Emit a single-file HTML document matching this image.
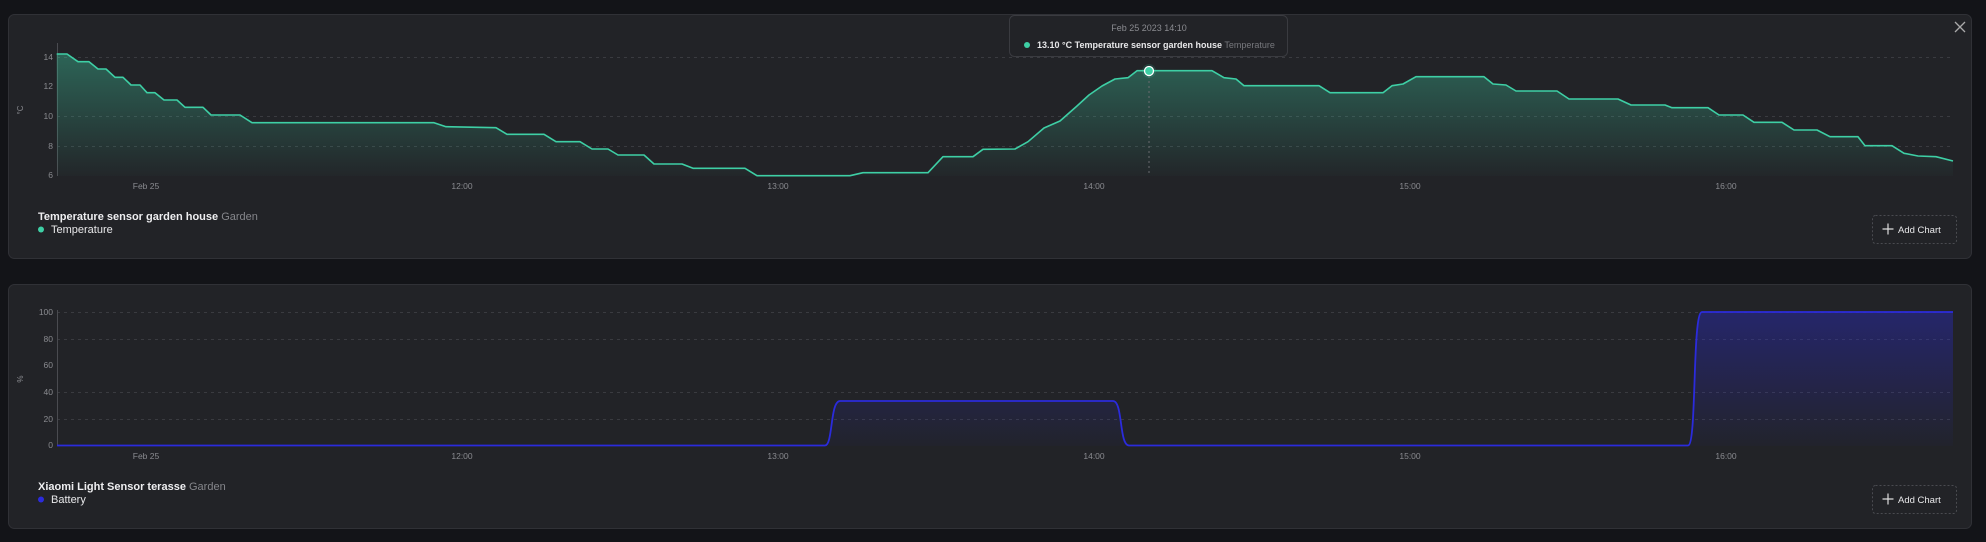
<!DOCTYPE html>
<html><head><meta charset="utf-8"><style>
html,body{margin:0;padding:0;background:#131418;width:1986px;height:542px;overflow:hidden;font-family:"Liberation Sans",sans-serif;}
svg{position:absolute;left:0;top:0}
</style></head><body>
<svg width="1986" height="542" viewBox="0 0 1986 542" xmlns="http://www.w3.org/2000/svg" font-family="Liberation Sans, sans-serif">
<defs>
<linearGradient id="g1" x1="0" y1="0" x2="0" y2="1"><stop offset="0" stop-color="#3ecfa5" stop-opacity="0.38"/><stop offset="1" stop-color="#3ecfa5" stop-opacity="0.02"/></linearGradient>
<linearGradient id="g2" x1="0" y1="0" x2="0" y2="1"><stop offset="0" stop-color="#2a2ad0" stop-opacity="0.4"/><stop offset="1" stop-color="#2a2ad0" stop-opacity="0.03"/></linearGradient>
</defs>
<rect x="8.5" y="14.5" width="1963" height="244" rx="6" fill="#222327" stroke="#303136"/>
<rect x="8.5" y="284.5" width="1963" height="244" rx="6" fill="#222327" stroke="#303136"/>

<!-- chart 1 -->
<g stroke="#3a3b40" stroke-dasharray="3,4" stroke-width="1">
<line x1="57" y1="57.5" x2="1953" y2="57.5"/><line x1="57" y1="116.5" x2="1953" y2="116.5"/><line x1="57" y1="146.5" x2="1953" y2="146.5"/>
</g>
<line x1="57.5" y1="43" x2="57.5" y2="176" stroke="#4a4b50"/>
<g fill="#8a8b90" font-size="8.5" text-anchor="end">
<text x="53" y="60">14</text><text x="53" y="89">12</text><text x="53" y="119">10</text><text x="53" y="149">8</text><text x="53" y="178">6</text>
</g>
<text x="0" y="0" fill="#8a8b90" font-size="8" transform="translate(23,110) rotate(-90)" text-anchor="middle">°C</text>
<g fill="#8a8b90" font-size="8.5" text-anchor="middle">
<text x="146" y="189">Feb 25</text><text x="462" y="189">12:00</text><text x="778" y="189">13:00</text><text x="1094" y="189">14:00</text><text x="1410" y="189">15:00</text><text x="1726" y="189">16:00</text>
</g>
<path fill="url(#g1)" d="M56.7,54 L67,54 78,61.7 89,61.7 98,69 106,69 115,77.3 123,77.3 131,85 140,85 147,92.7 155,92.7 164,100 177,100 185,107.3 203,107.3 211,115 240,115 252,122.7 434,122.7 446,126.7 496,127.7 507,134.3 544,134.3 556,141.7 580,141.7 592,149 608,149 618,155 644,155 654,164 682,164 693,168.3 745,168.3 757,175.7 850,175.7 863,172.7 928,172.7 943,156.7 973,156.7 983,149.3 1015,149 1028,141.7 1044,128 1060,121 1077,106 1089,95 1102,86 1115,79 1128,77.7 1137,70.7 1212,70.7 1224,77.7 1236,79 1244,85.7 1319,85.7 1330,92.7 1383,92.7 1392,85.7 1403,84 1416,76.7 1484,76.7 1493,84 1506,85 1516,91 1557,91 1569,99 1618,99 1631,105 1665,105 1672,107.7 1708,107.7 1719,115 1743,115 1754,122.3 1782,122.3 1794,130 1817,130 1830,136.7 1858,136.7 1865,145.7 1892,145.7 1904,153.3 1918,156 1936,156.7 1953,161 L1953,176 L57,176 Z"/>
<path fill="none" stroke="#3ecfa5" stroke-width="1.6" stroke-linejoin="round" d="M56.7,54 L67,54 78,61.7 89,61.7 98,69 106,69 115,77.3 123,77.3 131,85 140,85 147,92.7 155,92.7 164,100 177,100 185,107.3 203,107.3 211,115 240,115 252,122.7 434,122.7 446,126.7 496,127.7 507,134.3 544,134.3 556,141.7 580,141.7 592,149 608,149 618,155 644,155 654,164 682,164 693,168.3 745,168.3 757,175.7 850,175.7 863,172.7 928,172.7 943,156.7 973,156.7 983,149.3 1015,149 1028,141.7 1044,128 1060,121 1077,106 1089,95 1102,86 1115,79 1128,77.7 1137,70.7 1212,70.7 1224,77.7 1236,79 1244,85.7 1319,85.7 1330,92.7 1383,92.7 1392,85.7 1403,84 1416,76.7 1484,76.7 1493,84 1506,85 1516,91 1557,91 1569,99 1618,99 1631,105 1665,105 1672,107.7 1708,107.7 1719,115 1743,115 1754,122.3 1782,122.3 1794,130 1817,130 1830,136.7 1858,136.7 1865,145.7 1892,145.7 1904,153.3 1918,156 1936,156.7 1953,161"/>
<line x1="1149" y1="71" x2="1149" y2="176" stroke="#6a6b70" stroke-dasharray="2,3"/>
<circle cx="1149" cy="71" r="7" fill="#3ecfa5" fill-opacity="0.15"/>
<circle cx="1149" cy="71" r="4.5" fill="#3ecfa5" stroke="#fff" stroke-width="1.3"/>
<rect x="1009.5" y="15.5" width="278" height="41" rx="5" fill="#222327" stroke="#3a3b40"/>
<text x="1149" y="31" fill="#8a8b90" font-size="9" text-anchor="middle">Feb 25 2023 14:10</text>
<circle cx="1027" cy="45" r="3" fill="#3ecfa5"/>
<text x="1037" y="48" font-size="9" fill="#e8e8ea"><tspan font-weight="bold">13.10 °C Temperature sensor garden house</tspan> <tspan fill="#77787d">Temperature</tspan></text>
<path d="M1955,22 L1965,32 M1965,22 L1955,32" stroke="#aaa" stroke-width="1.3"/>
<text x="38" y="220" font-size="11" fill="#eeeef0" font-weight="bold">Temperature sensor garden house <tspan font-weight="normal" fill="#85868b">Garden</tspan></text>
<circle cx="41" cy="229.5" r="3" fill="#3ecfa5"/>
<text x="51" y="233" font-size="11" fill="#e8e8ea">Temperature</text>
<rect x="1872.5" y="215.5" width="84" height="28" rx="3" fill="none" stroke="#4a4b50" stroke-dasharray="2,2"/>
<path d="M1888,223.5 v11 M1882.5,229 h11" stroke="#ddd" stroke-width="1.2"/>
<text x="1898" y="233" font-size="9.5" fill="#e8e8ea">Add Chart</text>

<!-- chart 2 -->
<g stroke="#3a3b40" stroke-dasharray="3,4" stroke-width="1">
<line x1="57" y1="312.5" x2="1953" y2="312.5"/><line x1="57" y1="339.5" x2="1953" y2="339.5"/><line x1="57" y1="392.5" x2="1953" y2="392.5"/><line x1="57" y1="419.5" x2="1953" y2="419.5"/>
</g>
<line x1="57.5" y1="310" x2="57.5" y2="446" stroke="#4a4b50"/>
<g fill="#8a8b90" font-size="8.5" text-anchor="end">
<text x="53" y="315">100</text><text x="53" y="342">80</text><text x="53" y="368">60</text><text x="53" y="395">40</text><text x="53" y="422">20</text><text x="53" y="448">0</text>
</g>
<text x="0" y="0" fill="#8a8b90" font-size="8" transform="translate(23,379) rotate(-90)" text-anchor="middle">%</text>
<g fill="#8a8b90" font-size="8.5" text-anchor="middle">
<text x="146" y="459">Feb 25</text><text x="462" y="459">12:00</text><text x="778" y="459">13:00</text><text x="1094" y="459">14:00</text><text x="1410" y="459">15:00</text><text x="1726" y="459">16:00</text>
</g>
<path fill="url(#g2)" d="M57,445.5 L825,445.5 C833,445.5 830,401 840,401 L1113,401 C1123,401 1119,445.5 1129,445.5 L1688,445.5 C1697,445.5 1692,312 1702,312 L1953,312 L1953,446 L57,446 Z"/>
<path fill="none" stroke="#2b2bdc" stroke-width="1.8" d="M57,445.5 L825,445.5 C833,445.5 830,401 840,401 L1113,401 C1123,401 1119,445.5 1129,445.5 L1688,445.5 C1697,445.5 1692,312 1702,312 L1953,312"/>
<text x="38" y="490" font-size="11" fill="#eeeef0" font-weight="bold">Xiaomi Light Sensor terasse <tspan font-weight="normal" fill="#85868b">Garden</tspan></text>
<circle cx="41" cy="499.5" r="3" fill="#2b2bdc"/>
<text x="51" y="503" font-size="11" fill="#e8e8ea">Battery</text>
<rect x="1872.5" y="485.5" width="84" height="28" rx="3" fill="none" stroke="#4a4b50" stroke-dasharray="2,2"/>
<path d="M1888,493.5 v11 M1882.5,499 h11" stroke="#ddd" stroke-width="1.2"/>
<text x="1898" y="503" font-size="9.5" fill="#e8e8ea">Add Chart</text>
</svg>
</body></html>
